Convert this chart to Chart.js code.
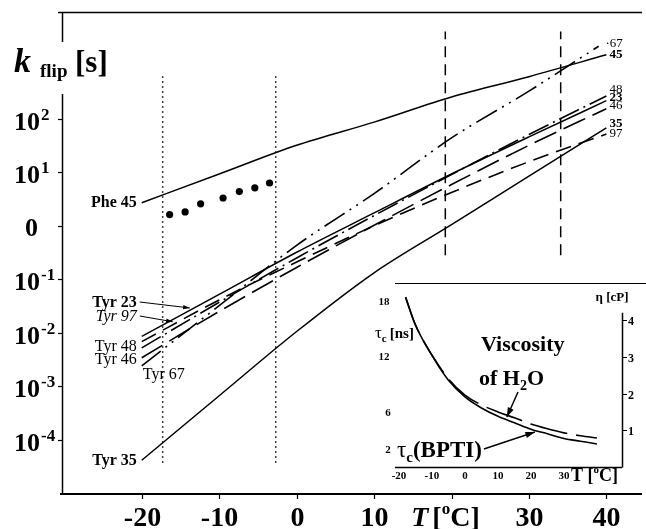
<!DOCTYPE html>
<html>
<head>
<meta charset="utf-8">
<script src="https://cdn.jsdelivr.net/npm/chart.js@4"></script>
<style>
    html, body { margin: 0; padding: 0; background: #fff; }
    #wrap { position: relative; width: 646px; height: 529px; }
    #main { position: absolute; left: 0; top: 0; }
    #inset { position: absolute; left: 372px; top: 283px; }
</style>
</head>
<body>
<div id="wrap">
    <canvas id="main" width="646" height="529"></canvas>
    <canvas id="inset" width="274" height="206"></canvas>
</div>
<script>
// ---- main plot data (k_flip vs T) ----
const temps = [-20, -10, 0, 10, 20, 30, 40];
const temps67 = [-20, -10, 0, 10, 20, 30, 39];
const phe45 = [2.7, 9.3, 32, 87, 257, 617, 1585];
const tyr23 = [0.0085, 0.052, 0.32, 1.74, 9.3, 46, 219];
const tyr97 = [0.0068, 0.041, 0.21, 1.0, 4.2, 15.8, 52];
const tyr48 = [0.0052, 0.037, 0.25, 1.55, 9.1, 51, 269];
const tyr46 = [0.0034, 0.025, 0.166, 1.02, 5.9, 32, 155];
const tyr67 = [0.0024, 0.032, 0.43, 4.0, 44, 331, 2290];
const tyr35 = [4.1e-5, 6.6e-4, 0.0105, 0.132, 1.05, 8.5, 68];

// measured Phe 45 points
const pheDotsT = [-16.4, -14.4, -12.4, -9.5, -7.4, -5.4, -3.5];
const pheDotsK = [1.62, 1.82, 2.57, 3.31, 4.37, 5.13, 6.31];

// temperature markers
const dottedT = [-17.3, -2.7];
const dottedRange = [3.7e-5, 720];
const dashedT = [19.2, 34.1];
const dashedRange = [0.28, 4300];

const yDecades = [-4, -3, -2, -1, 0, 1, 2];
const xTicks = [-20, -10, 0, 10, 20, 30, 40];

// ---- inset data ----
const insetT = [-18, -15, -10, -5, 0, 5, 10, 15, 20, 25, 30, 35, 40];
const tauC = [18.4, 15.4, 12.1, 9.4, 7.6, 6.4, 5.5, 4.8, 4.1, 3.6, 3.1, 2.8, 2.5];
const viscosity = [4.63, 3.87, 3.05, 2.40, 1.96, 1.69, 1.50, 1.34, 1.17, 1.04, 0.93, 0.85, 0.79];
const tauTicks = [18, 12, 6, 2];
const etaTicks = [1, 2, 3, 4];
const insetXTicks = [-20, -10, 0, 10, 20, 30];

const SERIF = '"Liberation Serif", "Times New Roman", serif';

const pts = (xs, ys) => xs.map((x, i) => ({ x, y: ys[i] }));

const curve = (label, xs, ys, dash, width = 1.5) => ({
    label,
    data: pts(xs, ys),
    borderColor: '#000',
    borderWidth: width,
    borderDash: dash,
    pointRadius: 0,
    fill: false,
    cubicInterpolationMode: 'monotone'
});

const vline = (t, range, dash) => ({
    label: 'T=' + t,
    data: [{ x: t, y: range[0] }, { x: t, y: range[1] }],
    borderColor: '#000',
    borderWidth: 1.5,
    borderDash: dash,
    pointRadius: 0,
    fill: false
});

function arrow(ctx, x1, y1, x2, y2, head) {
    ctx.beginPath();
    ctx.moveTo(x1, y1);
    ctx.lineTo(x2, y2);
    ctx.stroke();
    const a = Math.atan2(y2 - y1, x2 - x1);
    ctx.beginPath();
    ctx.moveTo(x2, y2);
    ctx.lineTo(x2 - head * Math.cos(a - 0.32), y2 - head * Math.sin(a - 0.32));
    ctx.lineTo(x2 - head * Math.cos(a + 0.32), y2 - head * Math.sin(a + 0.32));
    ctx.closePath();
    ctx.fill();
}

// draws text runs left to right, each with its own font and vertical shift
function runs(ctx, x, y, parts) {
    parts.forEach(p => {
        ctx.font = p.font;
        ctx.fillText(p.t, x, y + (p.dy || 0));
        x += ctx.measureText(p.t).width + (p.gap || 0);
    });
    return x;
}

function runsWidth(ctx, parts) {
    let w = 0;
    parts.forEach(p => { ctx.font = p.font; w += ctx.measureText(p.t).width + (p.gap || 0); });
    return w;
}

const mainDecor = {
    id: 'mainDecor',
    afterDraw(chart) {
        const ctx = chart.ctx;
        const { left, right, top, bottom } = chart.chartArea;
        const xs = chart.scales.x, ys = chart.scales.y;
        ctx.save();
        ctx.strokeStyle = '#000';
        ctx.fillStyle = '#000';

        // frame: top line, left axis, bottom axis
        ctx.lineWidth = 1.5;
        ctx.beginPath();
        ctx.moveTo(left - 4, top + 0.5); ctx.lineTo(right, top + 0.5);
        ctx.moveTo(left + 0.5, top); ctx.lineTo(left + 0.5, bottom + 1);
        ctx.stroke();
        ctx.lineWidth = 2;
        ctx.beginPath();
        ctx.moveTo(left - 2, bottom + 1); ctx.lineTo(right, bottom + 1);
        ctx.stroke();

        // y ticks + labels
        ctx.lineWidth = 1.2;
        ctx.textAlign = 'left';
        ctx.textBaseline = 'alphabetic';
        yDecades.forEach(e => {
            const py = Math.round(ys.getPixelForValue(Math.pow(10, e))) + 0.5;
            ctx.beginPath(); ctx.moveTo(left - 4, py); ctx.lineTo(left, py); ctx.stroke();
            if (e === 0) {
                ctx.font = 'bold 26px ' + SERIF;
                ctx.fillText('0', 25, py + 9);
            } else {
                runs(ctx, 14, py + 10, [
                    { t: '10', font: 'bold 26px ' + SERIF, gap: 1 },
                    { t: e < 0 ? '-' + (-e) : String(e), font: 'bold 17px ' + SERIF, dy: -10 }
                ]);
            }
        });

        // x ticks + labels
        xTicks.forEach(t => {
            const px = Math.round(xs.getPixelForValue(t)) + 0.5;
            ctx.beginPath(); ctx.moveTo(px, bottom + 1); ctx.lineTo(px, bottom + 6); ctx.stroke();
            if (t === 20) return;
            ctx.font = 'bold 28px ' + SERIF;
            ctx.textAlign = 'center';
            ctx.fillText(String(t), px, bottom + 33);
        });
        ctx.textAlign = 'left';
        const tParts = [
            { t: 'T', font: 'italic bold 28px ' + SERIF, gap: 4 },
            { t: '[', font: 'bold 28px ' + SERIF },
            { t: 'o', font: 'bold 17px ' + SERIF, dy: -12 },
            { t: 'C]', font: 'bold 28px ' + SERIF }
        ];
        const tw = runsWidth(ctx, tParts);
        runs(ctx, xs.getPixelForValue(20) - 6 - tw / 2, bottom + 33, tParts);

        // y title k_flip [s] on white patch over the axis
        ctx.fillStyle = '#fff';
        ctx.fillRect(10, 42, 100, 52);
        ctx.fillStyle = '#000';
        ctx.font = 'italic bold 34px ' + SERIF;
        ctx.fillText('k', 14, 72);
        ctx.font = 'bold 19px ' + SERIF;
        ctx.fillText('flip', 40, 77);
        ctx.font = 'bold 31px ' + SERIF;
        ctx.fillText('[s]', 75, 72);

        // left curve labels
        ctx.textAlign = 'right';
        const x0 = xs.getPixelForValue(-20) - 5;
        [
            ['Phe 45', 'bold', 207],
            ['Tyr 23', 'bold', 307],
            ['Tyr 97', 'italic', 321],
            ['Tyr 48', '', 351],
            ['Tyr 46', '', 364],
            ['Tyr 35', 'bold', 465]
        ].forEach(([txt, style, by]) => {
            ctx.font = (style ? style + ' ' : '') + '16px ' + SERIF;
            ctx.fillText(txt, x0, by);
        });
        ctx.textAlign = 'left';
        ctx.font = '16px ' + SERIF;
        ctx.fillText('Tyr 67', x0 + 6, 379);

        // pointer arrows for Tyr 23 / Tyr 97
        ctx.lineWidth = 1;
        arrow(ctx, x0 + 3, 302, xs.getPixelForValue(-13.8), ys.getPixelForValue(0.029), 7);
        arrow(ctx, x0 + 3, 316, xs.getPixelForValue(-16), ys.getPixelForValue(0.016), 7);

        // right end labels
        const xr = xs.getPixelForValue(40) + 3;
        [
            ['\u00b767', '', 47],
            ['45', 'bold', 58],
            ['48', '', 93],
            ['23', 'bold', 101],
            ['46', '', 109],
            ['35', 'bold', 127],
            ['97', '', 137]
        ].forEach(([txt, style, by]) => {
            ctx.font = (style ? style + ' ' : '') + '13px ' + SERIF;
            ctx.fillText(txt, txt.length > 2 ? xr - 4 : xr, by);
        });
        ctx.restore();
    }
};

new Chart(document.getElementById('main'), {
    type: 'line',
    data: {
        datasets: [
            vline(dottedT[0], dottedRange, [1.5, 3.5]),
            vline(dottedT[1], dottedRange, [1.5, 3.5]),
            vline(dashedT[0], dashedRange, [11, 7]),
            vline(dashedT[1], dashedRange, [11, 7]),
            curve('Phe 45', temps, phe45, []),
            curve('Tyr 23', temps, tyr23, []),
            curve('Tyr 97', temps, tyr97, [16, 8], 1.6),
            curve('Tyr 48', temps, tyr48, [22, 5, 2, 5], 1.6),
            curve('Tyr 46', temps, tyr46, [24, 8], 1.6),
            curve('Tyr 67', temps67, tyr67, [24, 6, 2, 6, 2, 6], 1.6),
            curve('Tyr 35', temps, tyr35, []),
            {
                label: 'Phe 45 data',
                data: pts(pheDotsT, pheDotsK),
                showLine: false,
                pointRadius: 3.6,
                pointBackgroundColor: '#000',
                pointBorderColor: '#000',
                pointBorderWidth: 0
            }
        ]
    },
    options: {
        responsive: false,
        devicePixelRatio: 1,
        animation: false,
        layout: { padding: { left: 62, top: 12, right: 0, bottom: 36 } },
        plugins: { legend: { display: false }, tooltip: { enabled: false } },
        scales: {
            x: { type: 'linear', min: -30.3, max: 44.6, display: false },
            y: { type: 'logarithmic', min: 1e-5, max: 1e4, display: false }
        }
    },
    plugins: [mainDecor]
});

const insetDecor = {
    id: 'insetDecor',
    beforeDraw(chart) {
        const ctx = chart.ctx;
        ctx.save();
        ctx.fillStyle = '#fff';
        ctx.fillRect(0, 0, chart.width, chart.height);
        ctx.restore();
    },
    afterDraw(chart) {
        const ctx = chart.ctx;
        const { left, right, top, bottom } = chart.chartArea;
        const xs = chart.scales.x, ys = chart.scales.y, ys2 = chart.scales.y2;
        ctx.save();
        ctx.strokeStyle = '#000';
        ctx.fillStyle = '#000';
        ctx.textBaseline = 'alphabetic';

        // top frame line, bottom axis, right axis
        ctx.lineWidth = 1;
        ctx.beginPath();
        ctx.moveTo(left, 0.5); ctx.lineTo(chart.width, 0.5);
        ctx.stroke();
        ctx.lineWidth = 1.5;
        ctx.beginPath();
        ctx.moveTo(left, bottom + 0.5); ctx.lineTo(right, bottom + 0.5);
        ctx.moveTo(right + 0.5, bottom + 0.5); ctx.lineTo(right + 0.5, ys2.getPixelForValue(4.2));
        ctx.stroke();

        // right (viscosity) ticks
        ctx.lineWidth = 1;
        ctx.font = 'bold 12px ' + SERIF;
        ctx.textAlign = 'left';
        etaTicks.forEach(v => {
            const py = Math.round(ys2.getPixelForValue(v)) + 0.5;
            ctx.beginPath(); ctx.moveTo(right, py); ctx.lineTo(right + 5, py); ctx.stroke();
            ctx.fillText(String(v), right + 6, py + 4);
        });
        ctx.font = 'bold 13px ' + SERIF;
        ctx.textAlign = 'center';
        ctx.fillText('\u03b7 [cP]', right - 10, 18);

        // left (tau_c) tick labels
        ctx.font = 'bold 11px ' + SERIF;
        tauTicks.forEach(v => {
            ctx.fillText(String(v), 12 + (v < 10 ? 4 : 0), ys.getPixelForValue(v) + 4);
        });
        ctx.textAlign = 'left';
        runs(ctx, 3, 55, [
            { t: '\u03c4', font: '17px ' + SERIF },
            { t: 'c', font: 'bold 11px ' + SERIF, dy: 4, gap: 3 },
            { t: '[ns]', font: 'bold 15px ' + SERIF }
        ]);

        // x tick labels
        ctx.font = 'bold 11px ' + SERIF;
        ctx.textAlign = 'center';
        insetXTicks.forEach(t => {
            ctx.fillText(String(t), xs.getPixelForValue(t), bottom + 12);
        });
        ctx.textAlign = 'left';
        runs(ctx, xs.getPixelForValue(30) + 7, bottom + 14, [
            { t: 'T ', font: 'bold 18px ' + SERIF },
            { t: '[', font: 'bold 18px ' + SERIF },
            { t: 'o', font: 'bold 11px ' + SERIF, dy: -8 },
            { t: 'C]', font: 'bold 18px ' + SERIF }
        ]);

        // annotations
        ctx.font = 'bold 22px ' + SERIF;
        ctx.fillText('Viscosity', 109, 68);
        runs(ctx, 107, 102, [
            { t: 'of H', font: 'bold 22px ' + SERIF },
            { t: '2', font: 'bold 14px ' + SERIF, dy: 5 },
            { t: 'O', font: 'bold 22px ' + SERIF }
        ]);
        ctx.lineWidth = 1.5;
        arrow(ctx, 146, 109, xs.getPixelForValue(12.7), ys2.getPixelForValue(1.36), 10);

        const endX = runs(ctx, 25, 174, [
            { t: '\u03c4', font: '23px ' + SERIF },
            { t: 'c', font: 'bold 15px ' + SERIF, dy: 5 },
            { t: '(BPTI)', font: 'bold 23px ' + SERIF }
        ]);
        arrow(ctx, endX + 2, 166, xs.getPixelForValue(21.2), ys.getPixelForValue(3.8), 10);
        ctx.restore();
    }
};

new Chart(document.getElementById('inset'), {
    type: 'line',
    data: {
        datasets: [
            Object.assign(curve('tau_c (BPTI)', insetT, tauC, [], 1.6), { yAxisID: 'y' }),
            Object.assign(curve('Viscosity of H2O', insetT, viscosity, [38, 9], 1.6), { yAxisID: 'y2' })
        ]
    },
    options: {
        responsive: false,
        devicePixelRatio: 1,
        animation: false,
        layout: { padding: { left: 23, top: 7, right: 24, bottom: 22 } },
        plugins: { legend: { display: false }, tooltip: { enabled: false } },
        scales: {
            x: { type: 'linear', min: -21.2, max: 47.6, display: false },
            y: { type: 'linear', min: 0, max: 19.2, display: false },
            y2: { type: 'linear', position: 'right', min: 0, max: 4.82, display: false }
        }
    },
    plugins: [insetDecor]
});
</script>
</body>
</html>
